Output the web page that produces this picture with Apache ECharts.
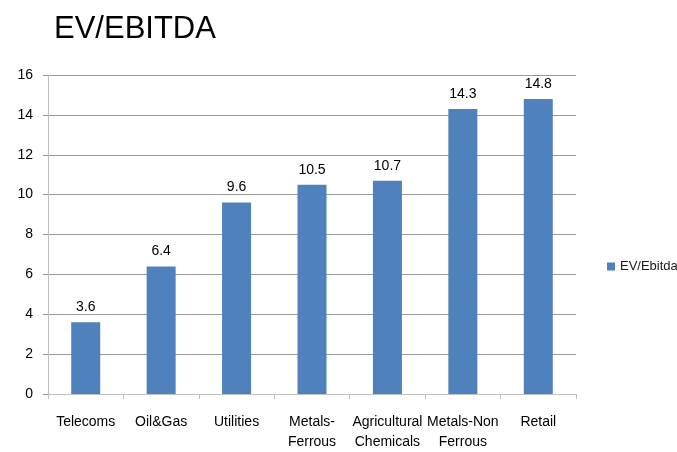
<!DOCTYPE html>
<html>
<head>
<meta charset="utf-8">
<script src="https://cdn.jsdelivr.net/npm/echarts@6/dist/echarts.min.js"></script>
<style>
  html, body { margin: 0; padding: 0; background: #ffffff; }
  #chart { width: 677px; height: 452px; }
</style>
</head>
<body>
<div id="chart"></div>
<script>
// Sector valuation multiples
const categories = ['Telecoms', 'Oil&Gas', 'Utilities', 'Metals-\nFerrous', 'Agricultural\nChemicals', 'Metals-Non\nFerrous', 'Retail'];
const evEbitda = [3.6, 6.4, 9.6, 10.5, 10.7, 14.3, 14.8];
const seriesName = 'EV/Ebitda';
const yTicks = { min: 0, max: 16, interval: 2 };

const font = '"Liberation Sans", Arial, sans-serif';
const chart = echarts.init(document.getElementById('chart'), null, { renderer: 'canvas' });

chart.setOption({
  animation: false,
  backgroundColor: '#ffffff',
  title: {
    text: 'EV/EBITDA',
    left: 49,
    top: 9,
    textStyle: { fontFamily: font, fontSize: 31, fontWeight: 'normal', color: '#000000' }
  },
  legend: {
    data: [seriesName],
    orient: 'vertical',
    left: 602,
    top: 255,
    icon: 'rect',
    itemWidth: 8,
    itemHeight: 8,
    itemGap: 4,
    textStyle: { fontFamily: font, fontSize: 13, color: '#1a1a1a' }
  },
  grid: { left: 48, right: 101, top: 75, bottom: 55, containLabel: false },
  xAxis: {
    type: 'category',
    data: categories,
    boundaryGap: true,
    axisLine: { show: true, lineStyle: { color: '#bfbfbf', width: 1 } },
    axisTick: { show: true, length: 5, interval: 0, lineStyle: { color: '#bfbfbf' } },
    axisLabel: {
      interval: 0,
      margin: 18,
      fontFamily: font,
      fontSize: 14,
      lineHeight: 20,
      color: '#000000'
    }
  },
  yAxis: {
    type: 'value',
    min: yTicks.min,
    max: yTicks.max,
    interval: yTicks.interval,
    axisLine: { show: true, lineStyle: { color: '#bfbfbf', width: 1 } },
    axisTick: { show: true, length: 5, lineStyle: { color: '#9a9a9a' } },
    axisLabel: { margin: 15, fontFamily: font, fontSize: 14, color: '#000000' },
    splitLine: { show: true, lineStyle: { color: '#9a9a9a', width: 1 } }
  },
  series: [{
    name: seriesName,
    type: 'bar',
    data: evEbitda,
    barWidth: 29,
    itemStyle: { color: '#4f81bd' },
    label: {
      show: true,
      position: 'top',
      distance: 8,
      fontFamily: font,
      fontSize: 14,
      color: '#000000',
      formatter: p => p.value.toFixed(1)
    }
  }]
});
</script>
</body>
</html>
